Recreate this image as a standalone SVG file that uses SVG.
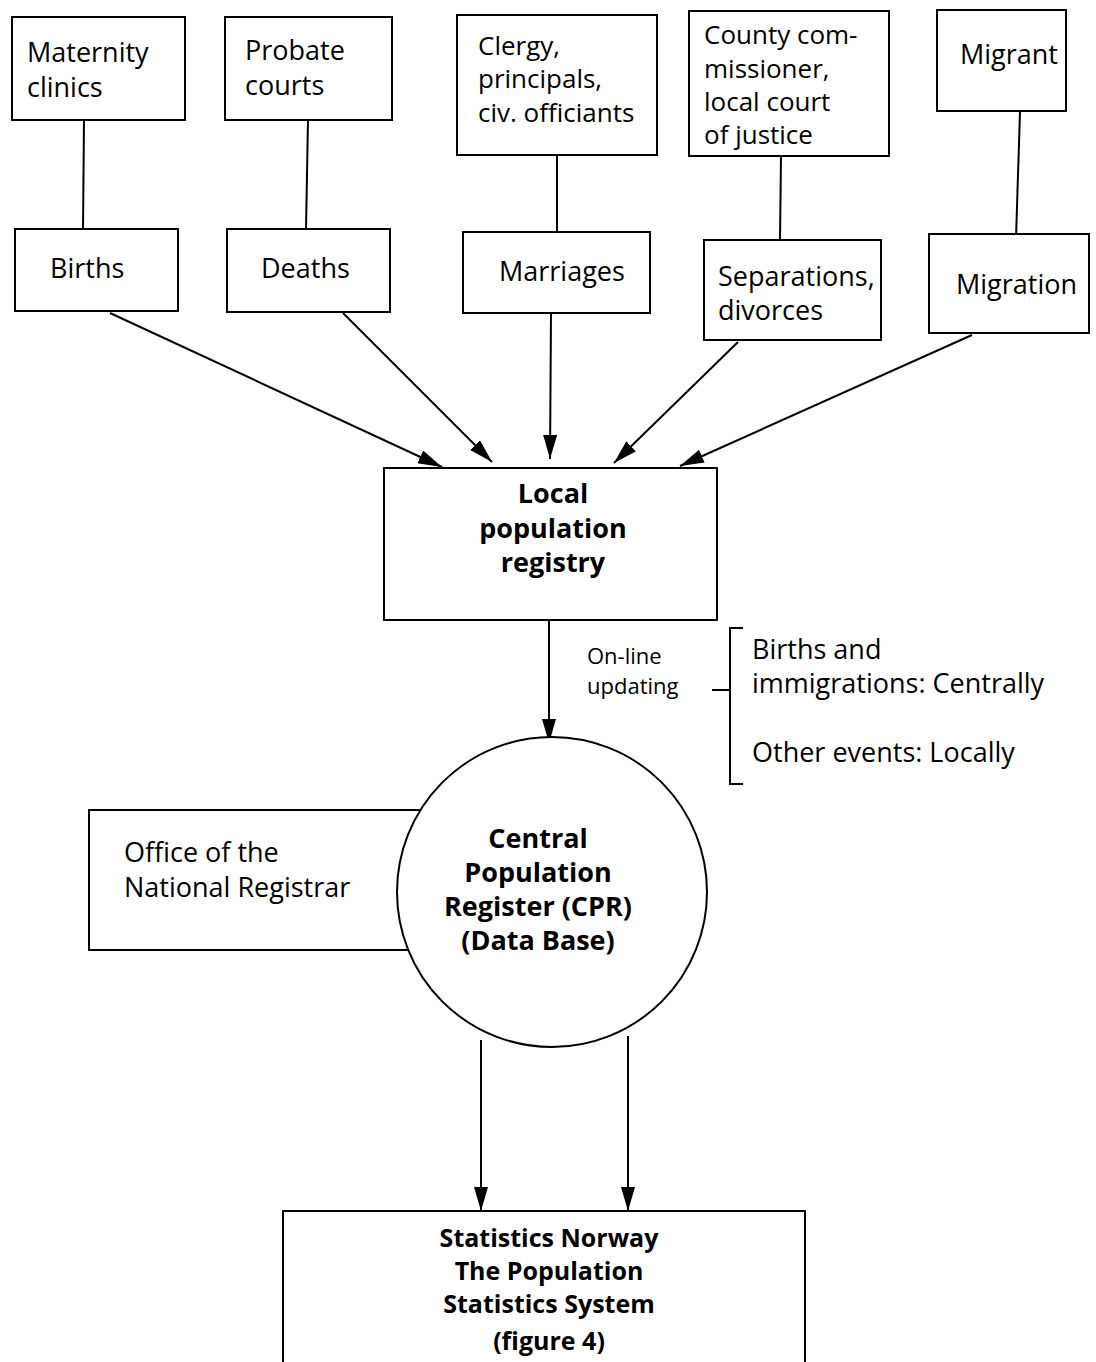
<svg xmlns="http://www.w3.org/2000/svg" width="1096" height="1362" viewBox="0 0 1096 1362">
<style>
.box{fill:#fff;stroke:#000;stroke-width:2}
.t{font-family:"Open Sans","Liberation Sans",sans-serif;font-size:27px;fill:#000}
.t2{font-family:"Open Sans","Liberation Sans",sans-serif;font-size:26px;fill:#000}
.s{font-family:"Open Sans","Liberation Sans",sans-serif;font-size:22px;fill:#000}
.b{font-family:"Open Sans","Liberation Sans",sans-serif;font-size:27px;font-weight:bold;fill:#000;text-anchor:middle}
.b2{font-family:"Open Sans","Liberation Sans",sans-serif;font-size:25px;font-weight:bold;fill:#000;text-anchor:middle}
.ln{stroke:#000;stroke-width:2;fill:none}
</style>
<defs>
<marker id="ah" markerUnits="userSpaceOnUse" markerWidth="26" markerHeight="16" refX="24" refY="7" orient="auto">
<path d="M0,0 L24,7 L0,14 z" fill="#000"/>
</marker>
</defs>
<rect width="1096" height="1362" fill="#fff"/>
<g id="connectors">
<line class="ln" x1="84" y1="120" x2="83" y2="229"/>
<line class="ln" x1="308" y1="120" x2="306" y2="229"/>
<line class="ln" x1="557" y1="155" x2="557" y2="232"/>
<line class="ln" x1="781" y1="156" x2="780" y2="240"/>
<line class="ln" x1="1020" y1="112" x2="1016" y2="238"/>
<line class="ln" x1="110" y1="313" x2="442" y2="467" marker-end="url(#ah)"/>
<line class="ln" x1="343" y1="313" x2="492" y2="462" marker-end="url(#ah)"/>
<line class="ln" x1="551" y1="313" x2="550" y2="459" marker-end="url(#ah)"/>
<line class="ln" x1="738" y1="342" x2="614" y2="463" marker-end="url(#ah)"/>
<line class="ln" x1="972" y1="335" x2="680" y2="466" marker-end="url(#ah)"/>
<line class="ln" x1="549" y1="620" x2="549" y2="743" marker-end="url(#ah)"/>
<line class="ln" x1="481" y1="1040" x2="481" y2="1211" marker-end="url(#ah)"/>
<line class="ln" x1="628" y1="1036" x2="628" y2="1211" marker-end="url(#ah)"/>
<path class="ln" d="M743,628 H730 V784 H743 M712,690 H730"/>
</g>
<g id="maternity"><rect class="box" x="12" y="17" width="173" height="103"/><text class="t" x="27" y="62">Maternity</text><text class="t" x="27" y="97">clinics</text></g>
<g id="probate"><rect class="box" x="225" y="17" width="167" height="103"/><text class="t" x="245" y="60">Probate</text><text class="t" x="245" y="95">courts</text></g>
<g id="clergy"><rect class="box" x="457" y="15" width="200" height="140"/><text class="t2" x="478" y="55">Clergy,</text><text class="t2" x="478" y="88">principals,</text><text class="t2" x="478" y="122">civ. officiants</text></g>
<g id="county"><rect class="box" x="689" y="11" width="200" height="145"/><text class="t2" x="704" y="44">County com-</text><text class="t2" x="704" y="78">missioner,</text><text class="t2" x="704" y="111">local court</text><text class="t2" x="704" y="144">of justice</text></g>
<g id="migrant"><rect class="box" x="937" y="10" width="129" height="101"/><text class="t" x="960" y="64">Migrant</text></g>
<g id="births"><rect class="box" x="15" y="229" width="163" height="82"/><text class="t" x="50" y="278">Births</text></g>
<g id="deaths"><rect class="box" x="227" y="229" width="163" height="83"/><text class="t" x="261" y="278">Deaths</text></g>
<g id="marriages"><rect class="box" x="463" y="232" width="187" height="81"/><text class="t" x="499" y="281">Marriages</text></g>
<g id="separations"><rect class="box" x="704" y="240" width="177" height="100"/><text class="t" x="718" y="286">Separations,</text><text class="t" x="718" y="320">divorces</text></g>
<g id="migration"><rect class="box" x="929" y="234" width="160" height="99"/><text class="t" x="956" y="294">Migration</text></g>
<g id="local"><rect class="box" x="384" y="468" width="333" height="152"/><text class="b" x="553" y="503">Local</text><text class="b" x="553" y="538">population</text><text class="b" x="553" y="572">registry</text></g>
<g id="online-label"><text class="s" x="587" y="664">On-line</text><text class="s" x="587" y="694">updating</text></g>
<g id="bracket-text"><text class="t" x="752" y="659">Births and</text><text class="t" x="752" y="693">immigrations: Centrally</text><text class="t" x="752" y="762">Other events: Locally</text></g>
<g id="office"><rect class="box" x="89" y="810" width="340" height="140"/><text class="t" x="124" y="862">Office of the</text><text class="t" x="124" y="897">National Registrar</text></g>
<g id="cpr"><circle class="box" cx="552" cy="892" r="155"/><text class="b" x="538" y="848">Central</text><text class="b" x="538" y="882">Population</text><text class="b" x="538" y="916">Register (CPR)</text><text class="b" x="538" y="950">(Data Base)</text></g>
<g id="statistics"><rect class="box" x="283" y="1211" width="522" height="160"/><text class="b2" x="549" y="1247">Statistics Norway</text><text class="b2" x="549" y="1280">The Population</text><text class="b2" x="549" y="1313">Statistics System</text><text class="b2" x="549" y="1350">(figure 4)</text></g>
</svg>
